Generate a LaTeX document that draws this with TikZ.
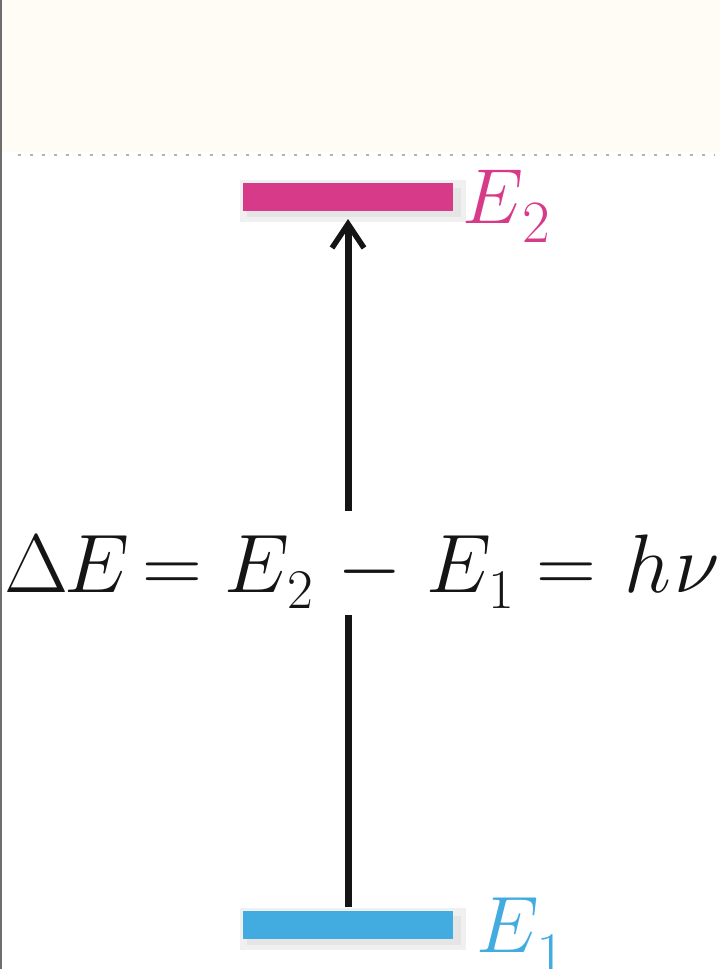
\RequirePackage{fix-cm}
\documentclass[tikz,border=0pt]{standalone}
\usetikzlibrary{arrows.meta}
\definecolor{cream}{HTML}{FEFCF5}
\definecolor{emag}{HTML}{D63A88}
\definecolor{eblue}{HTML}{42ABE0}
\definecolor{edge}{HTML}{6E6E6E}
\definecolor{ink}{HTML}{151515}
\begin{document}
\begin{tikzpicture}[x=1pt,y=-1pt,
  levelbar/.style={inner sep=0pt, minimum width=210pt, minimum height=28pt},
  glyph/.style={inner sep=0pt, text=ink, font=\fontsize{83}{86}\selectfont, anchor=base west},
  sub/.style={inner sep=0pt, text=ink, font=\fontsize{56}{60}\selectfont, anchor=base west},
  trans/.style={line width=7pt, ink}]
\useasboundingbox (0,0) rectangle (720,969);
\fill[white] (0,0) rectangle (720,969);
\fill[cream] (0,0) rectangle (720,152);
\draw[edge, line width=2pt] (1,0) -- (1,969);
\draw[gray!60, line width=1.5pt, dash pattern=on 3pt off 9pt] (18,155) -- (715,155);
% soft shadows
\fill[black!6] (240,180) rectangle (466,222);
\fill[black!10] (247,188) rectangle (461,217);
\fill[black!6] (240,908) rectangle (466,950);
\fill[black!10] (247,916) rectangle (461,945);
% levels
\node[levelbar, fill=emag] (e2) at (348,197) {};
\node[levelbar, fill=eblue] (e1) at (348,925) {};
% level labels
\node[inner sep=0pt, anchor=base west, text=emag, font=\fontsize{78}{82}\selectfont] (l2E) at (462,223) {$E$};
\node[inner sep=0pt, anchor=base west, text=emag, font=\fontsize{60}{64}\selectfont] (l2s) at (522,242) {2};
\node[inner sep=0pt, anchor=base west, text=eblue, font=\fontsize{80}{84}\selectfont] (l1E) at (476,952) {$E$};
\node[inner sep=0pt, anchor=base west, text=eblue, font=\fontsize{62}{66}\selectfont] (l1s) at (536,975) {1};
% equation  Delta E = E_2 - E_1 = h nu
\node[glyph] (dl) at (4,592) {$\Delta$};
\node[glyph] (eA) at (64,592) {$E$};
\node[glyph, anchor=base] (eq1) at (172,592) {$=$};
\node[glyph] (eB) at (224,592) {$E$};
\node[sub] (s2) at (287,608) {2};
\node[glyph, anchor=base] (mi) at (370,592) {$-$};
\node[glyph] (eC) at (426,592) {$E$};
\node[sub] (s1) at (488,608) {1};
\node[glyph, anchor=base] (eq2) at (566,592) {$=$};
\node[glyph] (hh) at (624,592) {$h$};
\node[glyph, anchor=base east] (nu) at (720,592) {$\nu$};
% transition arrow, broken around the equation
\coordinate (gtop) at (348,511);
\coordinate (gbot) at (348,615);
\coordinate (tip) at (348,219);
\coordinate (foot) at (348,907);
\draw[trans, -{Straight Barb[length=24pt,width=32pt,line width=5.5pt]}] (gtop) -- (tip);
\draw[trans] (foot) -- (gbot);
\end{tikzpicture}
\end{document}
